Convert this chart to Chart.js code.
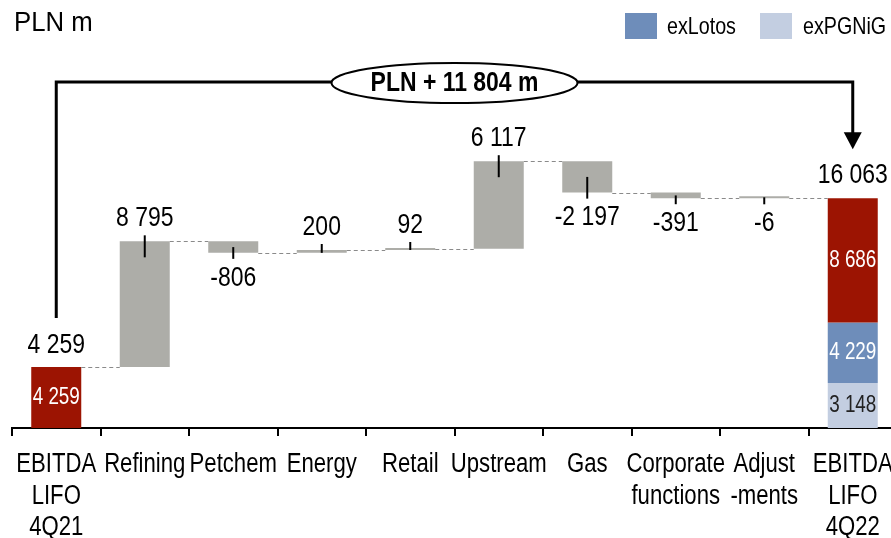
<!DOCTYPE html>
<html><head><meta charset="utf-8">
<script src="https://cdn.jsdelivr.net/npm/chart.js@4.4.0/dist/chart.umd.min.js"></script>
<style>
html,body{margin:0;padding:0;background:#fff;overflow:hidden;width:891px;height:538px}
#wrap{position:absolute;left:0;top:0;width:900px;height:538px}
</style></head>
<body><div id="wrap"><canvas id="c" width="900" height="538"></canvas></div>
<script>
// ---- data ----
const categories = [["EBITDA","LIFO","4Q21"],"Refining","Petchem","Energy","Retail","Upstream","Gas",["Corporate","functions"],["Adjust","-ments"],["EBITDA","LIFO","4Q22"]];
const startValue = 4259;
const changes = [8795, -806, 200, 92, 6117, -2197, -391, -6];
const endTotal = 16063;
const endOwn = 8686;
const endExLotos = 4229;
const endExPGNiG = 3148;
const totalChange = 11804;
const legendLabels = ["exLotos", "exPGNiG"];

// ---- font detection ----
function hasFont(name){
  const c=document.createElement('canvas').getContext('2d');
  c.font='40px monospace'; const a=c.measureText('EBITDA Refining 8 795').width;
  c.font='40px "'+name+'", monospace'; const b=c.measureText('EBITDA Refining 8 795').width;
  return Math.abs(a-b)>0.5;
}
const NARROW = hasFont('Liberation Sans Narrow');
const FAM = NARROW ? '"Liberation Sans Narrow", "Liberation Sans", Arial, sans-serif' : '"Liberation Sans", Arial, sans-serif';

// ---- build floating ranges ----
const mainData = [[0, startValue]];
let run = startValue;
for (const d of changes) { mainData.push([run, run + d]); run += d; }
mainData.push([endExPGNiG + endExLotos, endExPGNiG + endExLotos + endOwn]);
const n = categories.length;
const RED = '#9C1402', GRAY = '#ADADA8', BLUE = '#6E8DBA', LIGHT = '#C3CEE1';
const mainColors = mainData.map((_, i) => (i === 0 || i === n - 1) ? RED : GRAY);
const lotosData = categories.map((_, i) => i === n - 1 ? [endExPGNiG, endExPGNiG + endExLotos] : null);
const pgnigData = categories.map((_, i) => i === n - 1 ? [0, endExPGNiG] : null);

function fmt(v){
  const s = String(Math.abs(v)).replace(/\B(?=(\d{3})+(?!\d))/g, ' ');
  return (v < 0 ? '-' : '') + s;
}
function txt(ctx, s, x, y, size, color, bold, align, squeeze){
  const sq = NARROW ? 1 : (squeeze || 0.82);
  ctx.save();
  ctx.font = (bold ? 'bold ' : '') + size + 'px ' + FAM;
  ctx.fillStyle = color; ctx.textAlign = align || 'center'; ctx.textBaseline = 'middle';
  ctx.translate(x, y); ctx.scale(sq, 1); ctx.fillText(s, 0, 0);
  ctx.restore();
}

const overlay = {
  id: 'overlay',
  afterDatasetsDraw(chart){
    const ctx = chart.ctx, ys = chart.scales.y, xs = chart.scales.x;
    const els = chart.getDatasetMeta(0).data;
    // connectors
    ctx.save();
    ctx.strokeStyle = '#8a8a8a'; ctx.lineWidth = 1; ctx.setLineDash([4, 3]);
    for (let i = 0; i < n - 1; i++) {
      const level = i < n - 2 ? mainData[i][1] : endTotal;
      const y = Math.round(ys.getPixelForValue(level)) + 0.5;
      const a = els[i], b = els[i + 1];
      ctx.beginPath(); ctx.moveTo(a.x + a.width / 2, y); ctx.lineTo(b.x - b.width / 2, y); ctx.stroke();
    }
    ctx.restore();
    // ticks + labels for changes
    ctx.save(); ctx.strokeStyle = '#000'; ctx.lineWidth = 2;
    for (let i = 1; i <= changes.length; i++) {
      const el = els[i], d = changes[i - 1];
      const top = Math.min(el.y, el.base), bot = Math.max(el.y, el.base);
      let y1, y2, ly;
      if (d >= 0) { y1 = top - 6; y2 = Math.min(top + 16, bot); ly = top - 23; }
      else { y1 = Math.max(bot - 16, (top + bot) / 2); y2 = bot + 6; ly = bot + 25; }
      ctx.beginPath(); ctx.moveTo(el.x, y1); ctx.lineTo(el.x, y2); ctx.stroke();
      txt(ctx, fmt(d), el.x, ly, 28, '#000');
    }
    ctx.restore();
    // totals
    const e0 = els[0], eN = els[n - 1];
    txt(ctx, fmt(startValue), e0.x, ys.getPixelForValue(startValue) - 22, 28, '#000');
    txt(ctx, fmt(startValue), e0.x, (ys.getPixelForValue(startValue) + ys.getPixelForValue(0)) / 2, 23, '#fff');
    const yTop = ys.getPixelForValue(endTotal);
    txt(ctx, fmt(endTotal), eN.x, yTop - 23, 28, '#000');
    const b1 = endExPGNiG, b2 = endExPGNiG + endExLotos;
    txt(ctx, fmt(endOwn), eN.x, (ys.getPixelForValue(b2) + yTop) / 2, 23, '#fff');
    txt(ctx, fmt(endExLotos), eN.x, (ys.getPixelForValue(b1) + ys.getPixelForValue(b2)) / 2, 23, '#fff');
    txt(ctx, fmt(endExPGNiG), eN.x, (ys.getPixelForValue(0) + ys.getPixelForValue(b1)) / 2, 23, '#222');
    // category labels
    const axisY = xs.top;
    categories.forEach((c, i) => {
      const lines = Array.isArray(c) ? c : [c];
      const x = xs.getPixelForValue(i);
      lines.forEach((ln, j) => txt(ctx, ln, x, axisY + 37 + j * 31.5, 27, '#000'));
    });
    // bracket
    const yLine = 82;
    const yL = ys.getPixelForValue(startValue) - 49;
    const yR = yTop - 49;
    ctx.save(); ctx.strokeStyle = '#000'; ctx.lineWidth = 3; ctx.lineJoin = 'miter';
    ctx.beginPath(); ctx.moveTo(e0.x, yL); ctx.lineTo(e0.x, yLine); ctx.lineTo(eN.x, yLine); ctx.lineTo(eN.x, yR - 15); ctx.stroke();
    ctx.fillStyle = '#000';
    ctx.beginPath(); ctx.moveTo(eN.x - 9, yR - 17); ctx.lineTo(eN.x + 9, yR - 17); ctx.lineTo(eN.x, yR); ctx.closePath(); ctx.fill();
    // ellipse
    const cx = (e0.x + eN.x) / 2;
    ctx.lineWidth = 2; ctx.fillStyle = '#fff';
    ctx.beginPath(); ctx.ellipse(cx, 83, 123, 20, 0, 0, Math.PI * 2); ctx.fill(); ctx.stroke();
    ctx.restore();
    txt(ctx, 'PLN + ' + fmt(totalChange) + ' m', cx, 83, 28, '#000', true);
    // title + legend
    txt(ctx, 'PLN m', 14, 23, 28, '#000', false, 'left', 0.92);
    ctx.save();
    ctx.fillStyle = BLUE; ctx.fillRect(625, 13, 32, 26);
    ctx.fillStyle = LIGHT; ctx.fillRect(760, 13, 32, 26);
    ctx.restore();
    txt(ctx, legendLabels[0], 667, 27, 24, '#000', false, 'left');
    txt(ctx, legendLabels[1], 803, 27, 24, '#000', false, 'left');
  }
};

new Chart(document.getElementById('c'), {
  type: 'bar',
  data: {
    labels: categories,
    datasets: [
      { label: 'main', data: mainData, backgroundColor: mainColors, borderWidth: 0, grouped: false, minBarLength: 2 },
      { label: legendLabels[0], data: lotosData, backgroundColor: BLUE, borderWidth: 0, grouped: false },
      { label: legendLabels[1], data: pgnigData, backgroundColor: LIGHT, borderWidth: 0, grouped: false }
    ]
  },
  options: {
    responsive: false, animation: false, devicePixelRatio: 1,
    categoryPercentage: 1, barPercentage: 0.565,
    layout: { padding: { top: 142, left: 12, right: 3, bottom: 0 } },
    plugins: { legend: { display: false }, tooltip: { enabled: false } },
    scales: {
      x: {
        offset: true,
        grid: { offset: true, drawOnChartArea: false, drawTicks: true, tickLength: 8, color: '#000', lineWidth: 2 },
        border: { display: true, color: '#000', width: 2 },
        ticks: { display: false },
        afterFit(s) { s.height = 110; }
      },
      y: { display: false, min: 0, max: 20000 }
    }
  },
  plugins: [overlay]
});
</script>
</body></html>
